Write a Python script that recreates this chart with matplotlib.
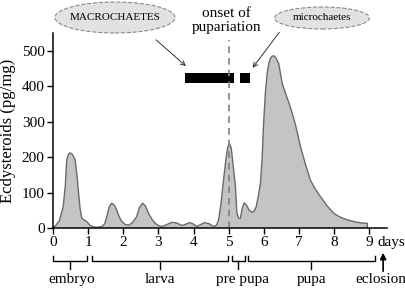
import matplotlib
matplotlib.use("Agg")
import matplotlib.pyplot as plt
from matplotlib.patches import Ellipse

plt.rcParams['font.family'] = ['Liberation Serif', 'DejaVu Serif']

days = [0.0, 0.06, 0.18, 0.29, 0.35, 0.39, 0.44, 0.48, 0.55, 0.63, 0.68, 0.72, 0.77, 0.82, 0.9,
        0.96, 1.05, 1.15, 1.25, 1.39, 1.47, 1.53, 1.6, 1.67, 1.74, 1.81, 1.88, 1.96, 2.05, 2.15,
        2.25, 2.38, 2.46, 2.55, 2.63, 2.72, 2.81, 2.91, 3.0, 3.10, 3.2, 3.38, 3.52, 3.67, 3.78,
        3.88, 3.98, 4.09, 4.2, 4.31, 4.44, 4.57, 4.65, 4.71, 4.78, 4.85, 4.92, 4.97, 5.02, 5.07,
        5.12, 5.19, 5.23, 5.28, 5.33, 5.38, 5.44, 5.5, 5.58, 5.65, 5.71, 5.78, 5.84, 5.9, 5.95,
        5.99, 6.04, 6.09, 6.14, 6.18, 6.23, 6.28, 6.34, 6.42, 6.52, 6.63, 6.75, 6.9, 7.04, 7.18,
        7.32, 7.46, 7.61, 7.8, 7.99, 8.18, 8.37, 8.6, 8.8, 8.94]
ecdysteroids = [3, 5, 20, 60, 120, 192, 208, 212, 208, 192, 150, 107, 55, 27, 22,
                18, 8, 3, 2, 4, 12, 32, 60, 70, 65, 51, 32, 18, 10, 8,
                14, 32, 58, 70, 62, 41, 25, 13, 7, 4, 8, 16, 14, 7, 11,
                15, 12, 4, 10, 15, 12, 4, 8, 23, 70, 135, 195, 228, 238, 225,
                180, 116, 42, 28, 27, 55, 71, 65, 50, 45, 46, 60, 90, 126, 200,
                295, 380, 436, 465, 478, 484, 486, 480, 464, 408, 375, 342, 290, 229, 180,
                135, 110, 88, 62, 41, 30, 23, 17, 14, 13]

# bristle formation bars (start day, end day), bottom / top in pg/mg
bar_starts = [3.76, 5.33]
bar_ends = [5.14, 5.61]
bar_bottom, bar_top = 408, 437

onset_day = 5.0

stages = ["embryo", "larva", "pre pupa", "pupa"]
stage_start = [0.0, 1.11, 5.08, 5.56]
stage_end = [0.97, 4.99, 5.46, 9.16]
stage_mid = [0.49, 3.05, 5.27, 7.35]
stage_label_x = [0.54, 3.05, 5.38, 7.35]

xticks = list(range(0, 10))
yticks = [0, 100, 200, 300, 400, 500]

W, H = 406, 289
fig = plt.figure(figsize=(W/100, H/100), dpi=100)
ax = fig.add_axes([53/W, 61/H, 334/W, 195/H])

ax.fill_between(days, ecdysteroids, 0, facecolor='#c4c4c4', edgecolor='none')
ax.plot(days + [days[-1]], ecdysteroids + [0], color='#6a6a6a', lw=1.0)

for s, e in zip(bar_starts, bar_ends):
    ax.fill_between([s, e], [bar_bottom]*2, [bar_top]*2, color='black', lw=0)

ax.plot([onset_day, onset_day], [0, 530], color='#808080', ls=(0, (4, 3)), lw=1.2, clip_on=False)

ax.set_xlim(0, 9.5)
ax.set_ylim(0, 550)
ax.set_xticks(xticks)
ax.set_yticks(yticks)
ax.tick_params(direction='out', length=4, width=1, labelsize=11, pad=2)
for sp in ['top', 'right']:
    ax.spines[sp].set_visible(False)
for sp in ['left', 'bottom']:
    ax.spines[sp].set_linewidth(1.1)
ax.set_ylabel("Ecdysteroids (pg/mg)", fontsize=12, labelpad=4)

ax.text(9.23, -42, "days", fontsize=11, ha='left', va='center', clip_on=False)

ax.text(4.93, 585, "onset of\npupariation", fontsize=11, ha='center', va='center',
        linespacing=1.05, clip_on=False)

# callout ellipses (figure pixel positions, from top-left)
def fig_xy(px, py):
    return px / W, 1 - py / H

for (cx, cy, w, h, label, start, end) in [
        (115, 17.5, 120, 31, "MACROCHAETES", (154, 38), (188, 68)),
        (322, 18, 95, 22, "microchaetes", (281, 30), (251, 70))]:
    e = Ellipse(fig_xy(cx, cy), w / W, h / H, transform=fig.transFigure,
                fc='#e2e2e2', ec='#8a8a8a', ls='--', lw=0.8)
    fig.add_artist(e)
    fig.text(*fig_xy(cx, cy), label, fontsize=8, ha='center', va='center')
    fig.add_artist(plt.matplotlib.patches.FancyArrowPatch(
        fig_xy(*start), fig_xy(*end), transform=fig.transFigure,
        arrowstyle='->', color='#333333', lw=0.7, mutation_scale=8))

for name, s, e, m, lx in zip(stages, stage_start, stage_end, stage_mid, stage_label_x):
    ax.plot([s, s, e, e], [-79, -93, -93, -79], color='black', lw=1, clip_on=False)
    ax.plot([m, m], [-93, -115], color='black', lw=1, clip_on=False)
    ax.text(lx, -146, name, fontsize=11, ha='center', va='center', clip_on=False)

ax.annotate("", xy=(9.39, -70), xytext=(9.39, -122), annotation_clip=False,
            arrowprops=dict(arrowstyle='-|>', color='black', lw=1.2, mutation_scale=9,
                            shrinkA=0, shrinkB=0))
ax.text(9.32, -146, "eclosion", fontsize=11, ha='center', va='center', clip_on=False)

fig.savefig("out.png", dpi=100)
